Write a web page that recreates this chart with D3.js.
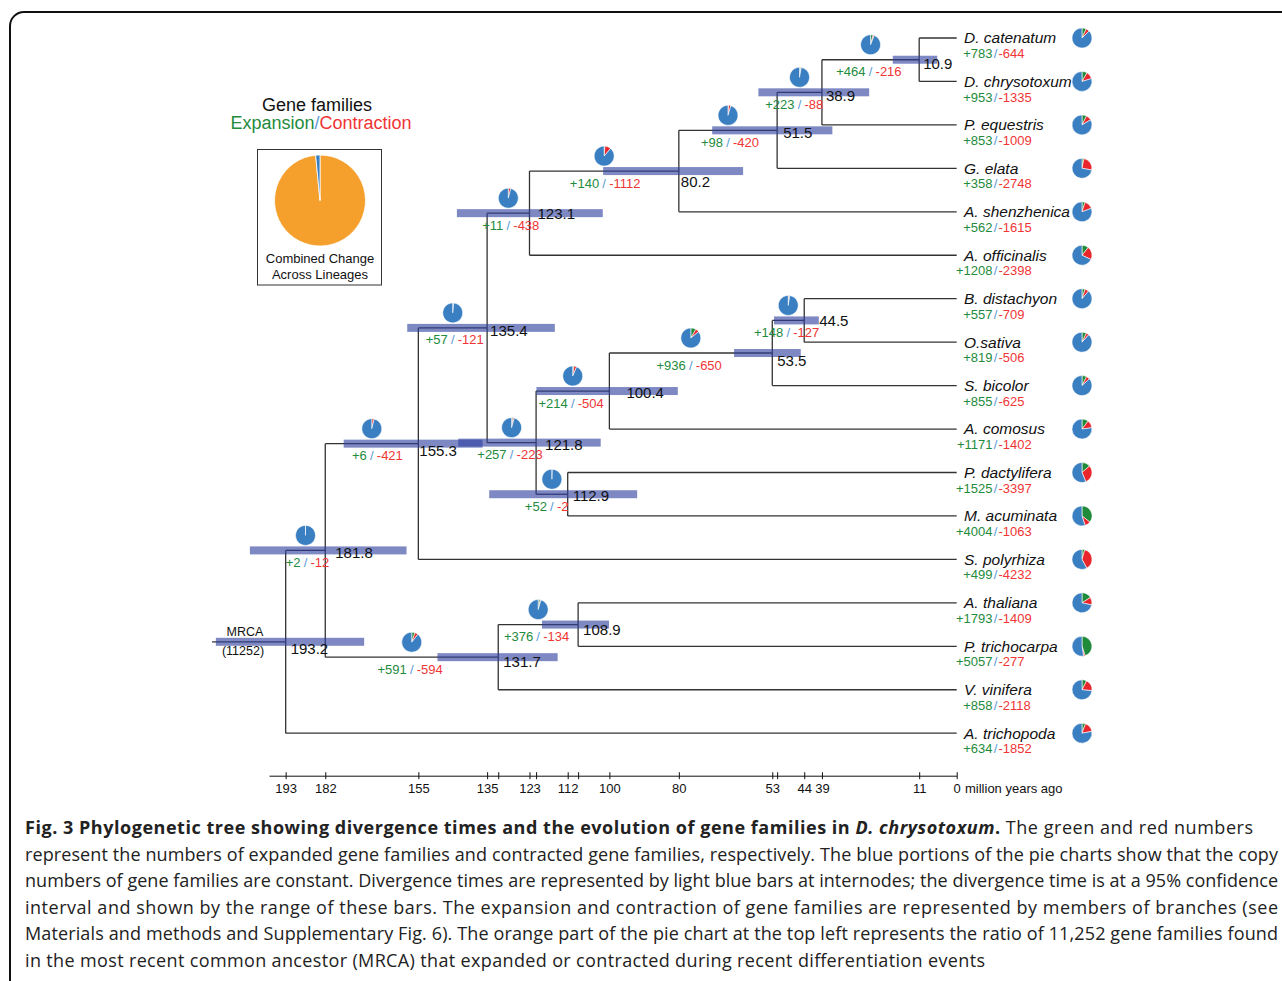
<!DOCTYPE html>
<html>
<head>
<meta charset="utf-8">
<script src="https://cdn.jsdelivr.net/npm/d3@7"></script>
<style>
  body { margin: 0; background: #fff; }
  svg text { font-family: "Liberation Sans", Arial, sans-serif; }
  .caption text { font-family: "Open Sans", sans-serif; }
</style>
</head>
<body>
<svg id="chart" width="1282" height="981"></svg>
<script>
// ---- data ----
const taxa = ["D. catenatum", "D. chrysotoxum", "P. equestris", "G. elata", "A. shenzhenica",
  "A. officinalis", "B. distachyon", "O.sativa", "S. bicolor", "A. comosus", "P. dactylifera",
  "M. acuminata", "S. polyrhiza", "A. thaliana", "P. trichocarpa", "V. vinifera", "A. trichopoda"];
const taxonParent = ["10.9", "10.9", "38.9", "51.5", "80.2", "123.1", "44.5", "44.5", "53.5",
  "100.4", "112.9", "112.9", "155.3", "108.9", "108.9", "131.7", "193.2"];
const taxonGain = [783, 953, 853, 358, 562, 1208, 557, 819, 855, 1171, 1525, 4004, 499, 1793, 5057, 858, 634];
const taxonLoss = [644, 1335, 1009, 2748, 1615, 2398, 709, 506, 625, 1402, 3397, 1063, 4232, 1409, 277, 2118, 1852];

// internal nodes (id = divergence time label)
const nodeIds = ["193.2", "181.8", "155.3", "135.4", "123.1", "80.2", "51.5", "38.9", "10.9",
  "121.8", "100.4", "53.5", "44.5", "112.9", "131.7", "108.9"];
const nodeParent = [null, "193.2", "181.8", "155.3", "135.4", "123.1", "80.2", "51.5", "38.9",
  "135.4", "121.8", "100.4", "53.5", "121.8", "181.8", "131.7"];
// where each node sits on the time axis (Mya)
const nodeAge = [193.2, 181.8, 155.0, 135.2, 123.0, 80.0, 51.7, 38.8, 10.8,
  121.1, 100.0, 53.1, 43.9, 112.0, 132.0, 109.0];
// 95% confidence bars (Mya)
const ciOld = [213.3, 203.5, 176.5, 158.2, 143.9, 101.8, 70.4, 57.1, 18.4,
  143.5, 121.0, 64.1, 52.6, 134.6, 149.5, 119.4];
const ciYoung = [170.6, 158.4, 136.5, 115.7, 101.9, 61.5, 35.8, 25.2, 5.6,
  102.5, 80.3, 44.9, 39.7, 92.0, 114.9, 100.1];
const nodeGain = [null, 2, 6, 57, 11, 140, 98, 223, 464, 257, 214, 936, 148, 52, 591, 376];
const nodeLoss = [null, 12, 421, 121, 438, 1112, 420, 88, 216, 223, 504, 650, 127, 2, 594, 134];

const mrcaFamilies = 11252;
const combinedSplit = [11080, 172]; // changed, constant

const axisTicks = [193.2, 181.8, 155.0, 135.2, 132.0, 123.0, 121.1, 112.0, 109.0, 100.0,
  80.0, 53.1, 51.7, 43.9, 38.8, 10.8, 0];
const axisLabels = ["193", "182", "155", "135", "", "123", "", "112", "", "100",
  "80", "53", "", "44", "39", "11", "0"];

// ---- layout ----
const green = "#238b3c", red = "#ef3535", slashBlue = "#5b9bd5";
const pieBlue = "#3a7fc1", pieGreen = "#1e8a3a", pieRed = "#e8262b", orange = "#f5a02d";

const svg = d3.select("#chart");
const x = d3.scaleLinear().domain([198, 0]).range([269, 956.7]);
const leafTop = 38, leafStep = 43.45;

// figure frame
svg.append("rect")
  .attr("x", 10).attr("y", 12).attr("width", 1300).attr("height", 1000)
  .attr("rx", 14).attr("fill", "none").attr("stroke", "#111").attr("stroke-width", 2);

const rows = nodeIds.map((id, i) => ({ id, parent: nodeParent[i], age: nodeAge[i], i, leaf: false }))
  .concat(taxa.map((t, i) => ({ id: t, parent: taxonParent[i], age: 0, i, leaf: true })));
const root = d3.stratify().id(d => d.id).parentId(d => d.parent)(rows);
d3.cluster().nodeSize([leafStep, 1]).separation(() => 1)(root);
const leaves = root.leaves();
const off = leafTop - leaves[0].x;
root.each(n => { n.py = n.x + off; n.px = x(n.data.age); });

// tree lines
const tree = svg.append("g").attr("stroke", "#333").attr("stroke-width", 1.3).attr("fill", "none");
root.descendants().forEach(n => {
  if (n.children) {
    const c = n.children;
    tree.append("line").attr("x1", n.px).attr("x2", n.px)
      .attr("y1", c[0].py).attr("y2", c[c.length - 1].py);
  }
  if (n.parent) {
    tree.append("line").attr("x1", n.parent.px).attr("x2", n.px)
      .attr("y1", n.py).attr("y2", n.py);
  }
});
tree.append("line").attr("x1", 212).attr("x2", root.px).attr("y1", root.py).attr("y2", root.py);

// confidence bars
const internals = root.descendants().filter(n => !n.data.leaf);
svg.append("g").selectAll("rect").data(internals).join("rect")
  .attr("x", n => x(ciOld[n.data.i]))
  .attr("width", n => x(ciYoung[n.data.i]) - x(ciOld[n.data.i]))
  .attr("y", n => n.py - 4).attr("height", 8)
  .attr("fill", "#2f40a0").attr("opacity", 0.62);

// node age labels
const labelNudge = {
  "193.2": [5, 7], "181.8": [10, 2], "155.3": [1, 7], "135.4": [3, 3], "123.1": [8, 1],
  "80.2": [2, 11], "51.5": [6, 2], "38.9": [4, 3], "10.9": [4, 4], "121.8": [9, 2],
  "100.4": [17, 2], "53.5": [5, 8], "44.5": [15, 0], "112.9": [5, 2], "131.7": [5, 4.5],
  "108.9": [5, 5]
};
svg.append("g").selectAll("text").data(internals).join("text")
  .attr("x", n => n.px + labelNudge[n.data.id][0])
  .attr("y", n => n.py + labelNudge[n.data.id][1])
  .attr("dy", "0.35em").attr("font-size", 15).attr("fill", "#111")
  .text(n => n.data.id);

// pies
const pie = d3.pie().sort(null).value(d => d);
const arc = d3.arc().innerRadius(0).outerRadius(10);
const pieCols = [pieGreen, pieRed, pieBlue];
function drawPie(cx, cy, gain, loss) {
  const gp = svg.append("g").attr("transform", `translate(${cx},${cy})`);
  gp.selectAll("path").data(pie([gain, loss, mrcaFamilies - gain - loss])).join("path")
    .attr("d", arc).attr("fill", (d, i) => pieCols[i])
    .attr("stroke", "#fff").attr("stroke-width", 0.6);
}
function drawCounts(cx, cy, gain, loss, gap, size) {
  const gt = svg.append("g").attr("font-size", size);
  gt.append("text").attr("x", cx - gap).attr("y", cy).attr("dy", "0.35em")
    .attr("text-anchor", "end").attr("fill", green).text("+" + gain);
  gt.append("text").attr("x", cx).attr("y", cy).attr("dy", "0.35em")
    .attr("text-anchor", "middle").attr("fill", slashBlue).text("/");
  gt.append("text").attr("x", cx + gap).attr("y", cy).attr("dy", "0.35em")
    .attr("text-anchor", "start").attr("fill", red).text("-" + loss);
}

internals.filter(n => n.parent).forEach(n => {
  const i = n.data.i;
  const mx = (n.parent.px + n.px) / 2;
  drawPie(mx, n.py - 15, nodeGain[i], nodeLoss[i]);
  drawCounts(mx, n.py + 12, nodeGain[i], nodeLoss[i], 5, 13);
});

// leaves
leaves.forEach(n => {
  const i = n.data.i;
  svg.append("text").attr("x", 964).attr("y", n.py).attr("dy", "0.35em")
    .attr("font-size", 15.5).attr("font-style", "italic").attr("fill", "#111")
    .text(n.data.id);
  drawCounts(995.5, n.py + 15.5, taxonGain[i], taxonLoss[i], 3, 13);
  drawPie(1082, n.py, taxonGain[i], taxonLoss[i]);
});

// MRCA
svg.append("text").attr("x", 245).attr("y", 632).attr("dy", "0.35em").attr("font-size", 12.5)
  .attr("text-anchor", "middle").attr("fill", "#111").text("MRCA");
svg.append("text").attr("x", 243).attr("y", 651).attr("dy", "0.35em").attr("font-size", 12.5)
  .attr("text-anchor", "middle").attr("fill", "#111").text("(11252)");

// axis
const axis = svg.append("g").attr("transform", "translate(0,775.7)")
  .call(d3.axisBottom(x).tickValues(axisTicks).tickFormat((d, i) => axisLabels[i]).tickSizeOuter(0));
axis.select(".domain").attr("stroke", "#111");
axis.selectAll(".tick line").attr("y1", -3.5).attr("y2", 3.5).attr("stroke", "#111");
axis.selectAll(".tick text").attr("y", 8.5).attr("font-size", 13).attr("fill", "#111")
  .attr("font-family", "'Liberation Sans', Arial, sans-serif");
svg.append("text").attr("x", 965).attr("y", 775.7 + 8.5).attr("dy", "0.71em")
  .attr("font-size", 13).attr("fill", "#111").text("million years ago");

// legend
svg.append("text").attr("x", 317).attr("y", 105).attr("dy", "0.35em").attr("font-size", 18)
  .attr("text-anchor", "middle").attr("fill", "#111").text("Gene families");
const leg = svg.append("text").attr("x", 321).attr("y", 123).attr("dy", "0.35em")
  .attr("font-size", 18).attr("text-anchor", "middle");
leg.append("tspan").attr("fill", green).text("Expansion");
leg.append("tspan").attr("fill", slashBlue).text("/");
leg.append("tspan").attr("fill", red).text("Contraction");
svg.append("rect").attr("x", 257.5).attr("y", 149.5).attr("width", 124).attr("height", 135.5)
  .attr("fill", "none").attr("stroke", "#333").attr("stroke-width", 1);
const bigArc = d3.arc().innerRadius(0).outerRadius(45.5);
svg.append("g").attr("transform", "translate(320,200.5)")
  .selectAll("path").data(pie(combinedSplit)).join("path")
  .attr("d", bigArc).attr("fill", (d, i) => i === 0 ? orange : pieBlue)
  .attr("stroke", "#fff").attr("stroke-width", 0.8);
svg.append("text").attr("x", 320).attr("y", 258.3).attr("dy", "0.35em").attr("font-size", 13)
  .attr("text-anchor", "middle").attr("fill", "#111").text("Combined Change");
svg.append("text").attr("x", 320).attr("y", 274.8).attr("dy", "0.35em").attr("font-size", 13)
  .attr("text-anchor", "middle").attr("fill", "#111").text("Across Lineages");

// caption
const cap = svg.append("g").attr("class", "caption").attr("font-size", 18).attr("fill", "#222");
const capLines = [
  "represent the numbers of expanded gene families and contracted gene families, respectively. The blue portions of the pie charts show that the copy",
  "numbers of gene families are constant. Divergence times are represented by light blue bars at internodes; the divergence time is at a 95% confidence",
  "interval and shown by the range of these bars. The expansion and contraction of gene families are represented by members of branches (see",
  "Materials and methods and Supplementary Fig. 6). The orange part of the pie chart at the top left represents the ratio of 11,252 gene families found",
  "in the most recent common ancestor (MRCA) that expanded or contracted during recent differentiation events"
];
const l1 = cap.append("text").attr("x", 25).attr("y", 834)
  .attr("textLength", 1228).attr("lengthAdjust", "spacing");
l1.append("tspan").attr("font-weight", "bold")
  .text("Fig. 3 Phylogenetic tree showing divergence times and the evolution of gene families in ");
l1.append("tspan").attr("font-weight", "bold").attr("font-style", "italic").text("D. chrysotoxum");
l1.append("tspan").attr("font-weight", "bold").text(".");
l1.append("tspan").text(" The green and red numbers");
capLines.forEach((t, i) => {
  cap.append("text").attr("x", 25).attr("y", 860.5 + i * 26.5)
    .attr("textLength", i < 4 ? 1253 : 960).attr("lengthAdjust", "spacing").text(t);
});
</script>
</body>
</html>
